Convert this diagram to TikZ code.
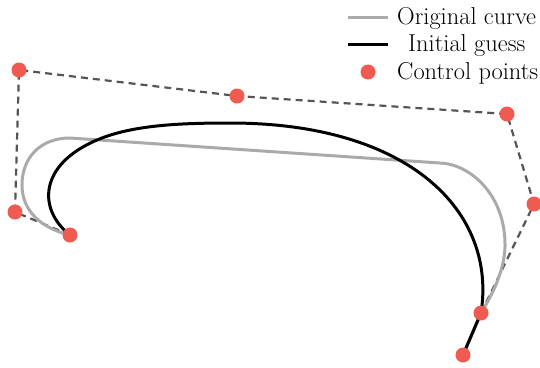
\documentclass[tikz,border=0pt]{standalone}
\usepackage{tikz}
\usetikzlibrary{positioning}
\definecolor{ptred}{HTML}{EF5B50}
\definecolor{origgray}{HTML}{AAAAAA}
\definecolor{polygray}{HTML}{555555}

\begin{document}
\begin{tikzpicture}[x=1bp,y=-1bp,
  ctrl/.style={circle, fill=ptred, inner sep=0pt, minimum size=15bp},
  polyline/.style={draw=polygray, line width=2.2bp, dash pattern=on 7bp off 5bp},
  origline/.style={draw=origgray, line width=3bp},
  guessline/.style={draw=black, line width=3bp},
  legtext/.style={font=\fontsize{24.5}{28}\selectfont, inner sep=0pt, anchor=base west}]

\useasboundingbox (0,0) rectangle (540,367);

% Control points
\coordinate (p0) at (70,235);
\coordinate (p1) at (15,212);
\coordinate (p2) at (19,70);
\coordinate (p3) at (237,96);
\coordinate (p4) at (507,114);
\coordinate (p5) at (534,204);
\coordinate (p6) at (481,313);
\coordinate (p7) at (463,355);

% Control polygon
\draw[polyline] (p0) -- (p1) -- (p2) -- (p3) -- (p4) -- (p5) -- (p6) -- (p7);

% Original curve
\draw[origline] (p0) .. controls (40,228) and (22,210) .. (22,185)
  .. controls (22,158) and (40,138) .. (70,138) -- (440,163)
  .. controls (470,164) and (506,195) .. (505,247)
  .. controls (504,270) and (494,292) .. (p6) -- (p7);

% Initial guess
\draw[guessline] (p0) .. controls (38,210) and (38,165) .. (97,140)
  .. controls (132,125) and (180,123) .. (230,123)
  .. controls (410,123) and (497,212) .. (p6) -- (p7);

% Points on top
\foreach \p in {p0,p1,p2,p3,p4,p5,p6,p7}
  \node[ctrl] at (\p) {};

% Legend
\coordinate (leg1) at (348,17);
\coordinate (leg2) at (348,44);
\coordinate (leg3) at (368,72);
\draw[origline] (leg1) -- ++(40,0);
\draw[guessline] (leg2) -- ++(40,0);
\node[ctrl] (legdot) at (leg3) {};
\node[legtext] (lab1) at (397,24) {Original curve};
\node[legtext] (lab2) at (408,51) {Initial guess};
\node[legtext] (lab3) at (397,79) {Control points};

\end{tikzpicture}
\end{document}
